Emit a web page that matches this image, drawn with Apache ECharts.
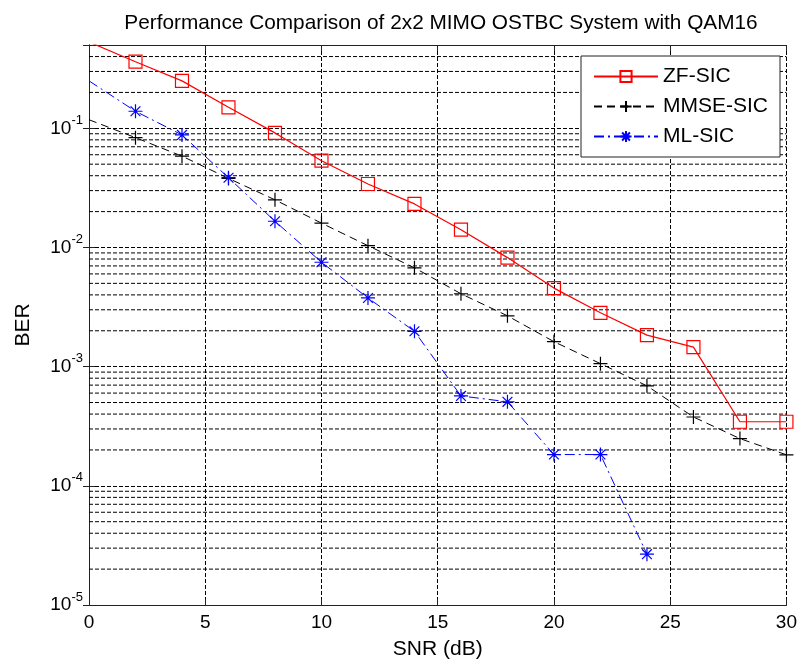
<!DOCTYPE html>
<html>
<head>
<meta charset="utf-8">
<script src="https://cdn.jsdelivr.net/npm/echarts@6/dist/echarts.min.js"></script>
<style>
  html, body { margin: 0; padding: 0; background: #fff; }
  #chart { width: 800px; height: 665px; }
</style>
</head>
<body>
<div id="chart"></div>
<script>
// SNR points (dB)
const snr = [0, 2, 4, 6, 8, 10, 12, 14, 16, 18, 20, 22, 24, 26, 28, 30];
// BER
const zfSic = [0.53, 0.362, 0.250, 0.150, 0.0915, 0.0535, 0.0341, 0.0232, 0.0141, 0.00822,
  0.00456, 0.00283, 0.00184, 0.00146, 0.000345, 0.000345];
const mmseSic = [0.118, 0.0835, 0.0584, 0.038, 0.0251, 0.0160, 0.01035, 0.00675, 0.00409, 0.00267,
  0.00162, 0.00106, 0.00069, 0.000378, 0.000249, 0.000182];
const mlSic = [0.25, 0.139, 0.088, 0.0385, 0.0166, 0.00752, 0.00377, 0.00198, 0.000568, 0.000507,
  0.000183, 0.000183, 0.0000267];
const seriesNames = ["ZF-SIC", "MMSE-SIC", "ML-SIC"];

const xMin = 0;
const xMax = 30;
const yMin = 1e-5;
const yMax = 0.5;

// minor grid lines at 2..9 x 10^k (like matlab's log grid)
const minorGrid = [];
for (let e = -5; e <= -1; e++) {
  for (let m = 2; m <= 9; m++) {
    const v = m * Math.pow(10, e);
    if (v < yMax) minorGrid.push(v);
  }
}
const minorGridData = [];
minorGrid.forEach(function (v) {
  minorGridData.push([xMin, v], [xMax, v], ["-", "-"]);
});

const font = "Liberation Sans, Arial, sans-serif";
const gridDash = { color: "#000", width: 1, type: [4, 2] };

function pairs(values) {
  return values.map(function (v, i) {
    // matlab drew no marker on the first point
    if (i === 0) return { value: [snr[i], v], symbol: "none" };
    return [snr[i], v];
  });
}

function logLabel(value) {
  const e = Math.round(Math.log10(value));
  if (Math.abs(Math.log10(value) - e) > 1e-6) return "";
  return "{b|10}{s|" + e + "}";
}

const chart = echarts.init(document.getElementById("chart"));
const option = {
  animation: false,
  backgroundColor: "#fff",
  title: {
    text: "Performance Comparison of 2x2 MIMO OSTBC System with QAM16",
    left: 436,
    textAlign: "center",
    top: 8,
    textStyle: { fontFamily: font, fontSize: 20.8, fontWeight: "normal", color: "#000" }
  },
  legend: {
    left: 581,
    top: 56,
    orient: "vertical",
    itemWidth: 64,
    itemHeight: 14,
    itemGap: 9,
    padding: [10, 12, 10, 12],
    borderColor: "#222",
    borderWidth: 1,
    backgroundColor: "#fff",
    textStyle: { fontFamily: font, fontSize: 21, color: "#000" },
    data: seriesNames
  },
  grid: { left: 89, right: 12, top: 45, bottom: 57 },
  xAxis: [{
    type: "value",
    min: xMin,
    max: xMax,
    interval: 5,
    name: "SNR (dB)",
    nameLocation: "middle",
    nameGap: 34,
    nameTextStyle: { fontFamily: font, fontSize: 21, color: "#000" },
    axisLine: { onZero: false, lineStyle: { color: "#222", width: 1 } },
    axisTick: { inside: true, length: 6, lineStyle: { color: "#222" } },
    axisLabel: { margin: 8, fontFamily: font, fontSize: 19, color: "#000" },
    splitLine: { show: true, lineStyle: gridDash }
  }, {
    type: "value",
    position: "top",
    min: xMin,
    max: xMax,
    interval: 5,
    axisLine: { onZero: false, lineStyle: { color: "#222", width: 1 } },
    axisTick: { inside: true, length: 6, lineStyle: { color: "#222" } },
    axisLabel: { show: false },
    splitLine: { show: false }
  }],
  yAxis: [{
    type: "log",
    logBase: 10,
    min: yMin,
    max: yMax,
    name: "BER",
    nameLocation: "middle",
    nameGap: 55,
    nameTextStyle: { fontFamily: font, fontSize: 21, color: "#000" },
    axisLine: { lineStyle: { color: "#222", width: 1 } },
    axisTick: { inside: true, length: 6, lineStyle: { color: "#222" } },
    axisLabel: {
      margin: 6,
      formatter: logLabel,
      rich: {
        b: { fontFamily: font, fontSize: 19, color: "#000" },
        s: { fontFamily: font, fontSize: 13, color: "#000", padding: [0, 0, 16, 0] }
      }
    },
    splitLine: { show: true, lineStyle: gridDash }
  }, {
    type: "log",
    logBase: 10,
    min: yMin,
    max: yMax,
    position: "right",
    axisLine: { lineStyle: { color: "#222", width: 1 } },
    axisTick: { inside: true, length: 6, lineStyle: { color: "#222" } },
    axisLabel: { show: false },
    splitLine: { show: false }
  }],
  series: [{
    name: "grid",
    type: "line",
    data: minorGridData,
    symbol: "none",
    silent: true,
    connectNulls: false,
    lineStyle: gridDash,
    z: 1
  }, {
    name: seriesNames[0],
    type: "line",
    color: "#ff0000",
    data: pairs(zfSic),
    symbol: "rect",
    symbolSize: 13,
    itemStyle: { color: "rgba(0,0,0,0)", borderColor: "#ff0000", borderWidth: 1.2 },
    lineStyle: { color: "#ff0000", width: 1.2, type: "solid" },
    z: 4
  }, {
    name: seriesNames[1],
    type: "line",
    color: "#000",
    data: pairs(mmseSic),
    symbol: "path://M0,5L10,5M5,0L5,10",
    symbolSize: 14,
    itemStyle: { color: "rgba(0,0,0,0)", borderColor: "#000", borderWidth: 1.2 },
    lineStyle: { color: "#000", width: 1, type: [8, 5] },
    z: 3
  }, {
    name: seriesNames[2],
    type: "line",
    color: "#0000ff",
    data: pairs(mlSic),
    symbol: "path://M0,5L10,5M5,0L5,10M1.5,1.5L8.5,8.5M1.5,8.5L8.5,1.5",
    symbolSize: 14,
    itemStyle: { color: "rgba(0,0,0,0)", borderColor: "#0000ff", borderWidth: 1.2 },
    lineStyle: { color: "#0000ff", width: 1, type: [10, 4, 2, 4] },
    z: 3
  }]
};
chart.setOption(option);
</script>
</body>
</html>
